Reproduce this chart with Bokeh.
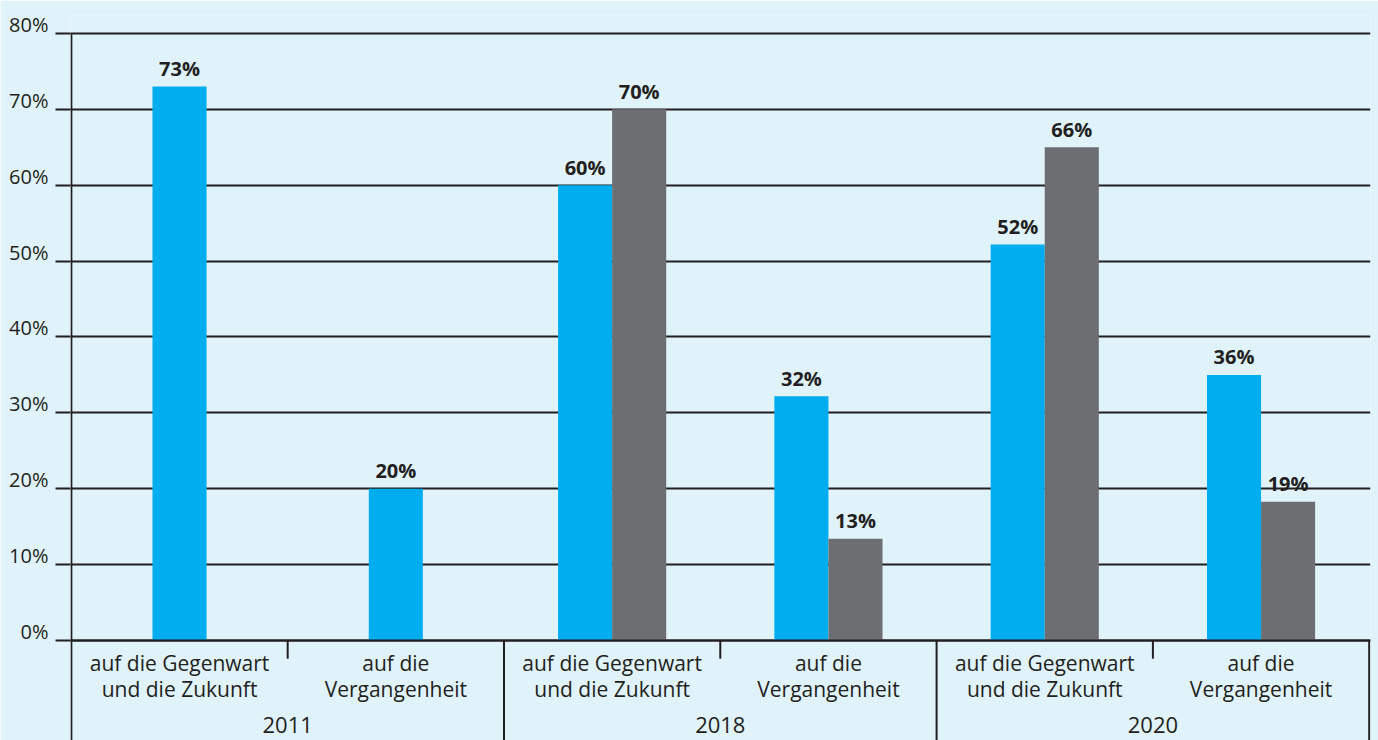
from bokeh.plotting import figure
from bokeh.models import (Range1d, FixedTicker, ColumnDataSource, CustomJSTickFormatter,
                          LinearAxis)
from bokeh.embed import file_html
from bokeh.resources import INLINE
from bokeh.core.properties import value

# ---------------- data ----------------
years = ["2011", "2018", "2020"]
subgroups = [["auf die Gegenwart", "und die Zukunft"], ["auf die", "Vergangenheit"]]
blue_values = [73, 20, 60, 32.2, 52.2, 35]
blue_labels = ["73%", "20%", "60%", "32%", "52%", "36%"]
gray_values = [None, None, 70, 13.4, 65, 18.3]
gray_labels = [None, None, "70%", "13%", "66%", "19%"]
y_ticks = [0, 10, 20, 30, 40, 50, 60, 70, 80]

BG = "#e0f3fa"
BLUE = "#00aeef"
GRAY = "#6d6e71"
INK = "#231f20"
FONT = "Open Sans"

BAR_W = 0.25
Y_MIN = -13.18
Y_MAX = 82.37
X_MIN = -0.004
X_MAX = 6.006
LAB_SHIFT = 1.2   # tick labels sit just above their grid line

p = figure(width=1378, height=740, output_backend="svg", toolbar_location=None,
           x_range=Range1d(X_MIN, X_MAX), y_range=Range1d(Y_MIN, Y_MAX),
           x_axis_location=None, min_border_left=70, min_border_right=8,
           min_border_top=15, min_border_bottom=0)
p.background_fill_color = BG
p.border_fill_color = BG
p.outline_line_color = None
p.xgrid.grid_line_color = None

# main y axis: ticks only (grid line stubs)
ax = p.yaxis[0]
ax.ticker = FixedTicker(ticks=y_ticks)
ax.formatter = CustomJSTickFormatter(code="return '';")
ax.axis_line_color = None
ax.major_tick_line_color = INK
ax.major_tick_line_width = 2
ax.major_tick_out = 15
ax.major_tick_in = 0
ax.minor_tick_line_color = None
ax.major_label_standoff = 0
ax.major_label_text_font_size = "1px"
p.ygrid.grid_line_color = INK
p.ygrid.grid_line_width = 2
p.ygrid.ticker = FixedTicker(ticks=y_ticks)

# label axis (shifted range so labels sit above the grid lines)
p.extra_y_ranges = {"lab": Range1d(Y_MIN - LAB_SHIFT, Y_MAX - LAB_SHIFT)}
lax = LinearAxis(y_range_name="lab", ticker=FixedTicker(ticks=y_ticks),
                 formatter=CustomJSTickFormatter(code="return tick + '%';"))
lax.axis_line_color = None
lax.major_tick_line_color = None
lax.minor_tick_line_color = None
lax.major_tick_out = 0
lax.major_tick_in = 0
lax.major_label_standoff = 7
lax.major_label_text_font = FONT
lax.major_label_text_font_size = "20px"
lax.major_label_text_color = INK
p.add_layout(lax, "left")

# y axis line from 0% to 80% and down to the bottom
p.segment(x0=[0], y0=[Y_MIN], x1=[0], y1=[y_ticks[-1]], line_color=INK, line_width=2)

# bars
n = len(blue_values)
bx, bt, gx, gt = [], [], [], []
blx, bly, blt, glx, gly, glt = [], [], [], [], [], []
for i in range(n):
    center = i + 0.5
    paired = gray_values[i] is not None
    xb = center - BAR_W / 2 if paired else center
    bx.append(xb); bt.append(blue_values[i])
    blx.append(xb); bly.append(blue_values[i]); blt.append(blue_labels[i])
    if paired:
        xg = center + BAR_W / 2
        gx.append(xg); gt.append(gray_values[i])
        glx.append(xg); gly.append(gray_values[i]); glt.append(gray_labels[i])

p.vbar(x=bx, top=bt, bottom=0, width=BAR_W, fill_color=BLUE, line_color=None)
p.vbar(x=gx, top=gt, bottom=0, width=BAR_W, fill_color=GRAY, line_color=None)

# redraw zero line over bars
p.segment(x0=[X_MIN], y0=[0], x1=[X_MAX], y1=[0], line_color=INK, line_width=2)

lab = ColumnDataSource(dict(x=blx + glx, y=bly + gly, t=blt + glt))
p.text(x="x", y="y", text="t", source=lab, text_align="center",
       text_baseline="alphabetic", y_offset=-18, text_font=value(FONT),
       text_font_style="bold", text_font_size="20px", text_color=INK)

# category axis lines
grp_x = [2 * (k + 1) for k in range(len(years))]
p.segment(x0=grp_x, y0=[0] * len(grp_x), x1=grp_x, y1=[Y_MIN] * len(grp_x),
          line_color=INK, line_width=2)
sub_x = [2 * k + 1 for k in range(len(years))]
p.segment(x0=sub_x, y0=[0] * len(sub_x), x1=sub_x, y1=[-2.4] * len(sub_x),
          line_color=INK, line_width=2)

# category labels
cx, cy, ct = [], [], []
for i in range(n):
    lines = subgroups[i % 2]
    cx += [i + 0.5, i + 0.5]
    cy += [-2.95, -6.4]
    ct += lines
p.text(x=cx, y=cy, text=ct, text_align="center", text_baseline="middle",
       text_font=value(FONT), text_font_size="21px", text_color=INK)
yx = [2 * k + 1 for k in range(len(years))]
p.text(x=yx, y=[-11.2] * len(yx), text=years, text_align="center",
       text_baseline="middle", text_font=value(FONT), text_font_size="22px",
       text_color=INK)

html = file_html(p, INLINE)
html = html.replace("<body>", '<body style="background:%s;">' % BG, 1)
open("out.html", "w").write(html)
